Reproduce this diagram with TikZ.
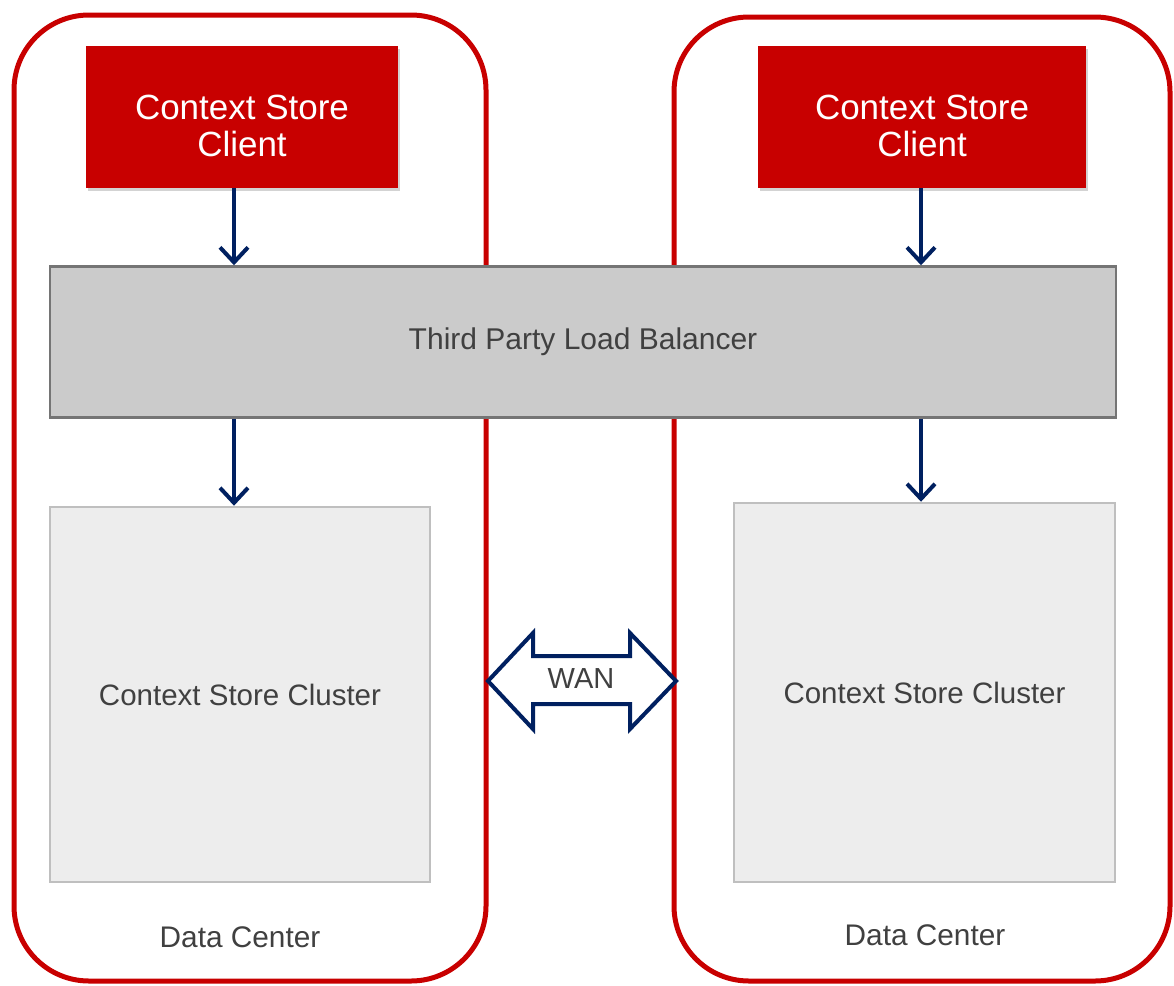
\documentclass[tikz,border=0pt]{standalone}
\usepackage{fontspec}
\setmainfont{Liberation Sans}
\usetikzlibrary{arrows.meta,shadows}
\definecolor{dcred}{HTML}{C80000}
\definecolor{navy}{HTML}{002060}
\definecolor{lbfill}{HTML}{CBCBCB}
\definecolor{lbdraw}{HTML}{757575}
\definecolor{csfill}{HTML}{EDEDED}
\definecolor{csdraw}{HTML}{BFBFBF}
\definecolor{txtgray}{HTML}{404040}
\tikzset{
  dcbox/.style={draw=dcred, line width=5pt, rounded corners=75pt},
  clientbox/.style={fill=dcred, draw=none, inner sep=0pt,
    drop shadow={opacity=0.35, shadow xshift=2pt, shadow yshift=-3pt}},
  clienttext/.style={text=white, align=center,
    font=\fontsize{35}{37}\selectfont, inner sep=0pt},
  lbbox/.style={fill=lbfill, draw=lbdraw, line width=2.5pt, text=txtgray,
    font=\fontsize{30}{34}\selectfont, inner sep=0pt},
  clusterbox/.style={fill=csfill, draw=csdraw, line width=2.5pt, text=txtgray,
    font=\fontsize{29.5}{34}\selectfont, inner sep=0pt},
  dclabel/.style={text=txtgray, font=\fontsize{29.8}{34}\selectfont, inner sep=0pt},
  flow/.style={draw=navy, line width=4pt, -{Straight Barb[length=15pt,width=28pt,line width=4pt]}},
  wanarrow/.style={draw=navy, fill=white, line width=4pt, line join=miter},
}
\begin{document}
\begin{tikzpicture}[x=1pt,y=-1pt]
\useasboundingbox (0,0) rectangle (1174,985);
% data centers
\draw[dcbox] (14,15) rectangle (486,981);
\draw[dcbox] (674,17) rectangle (1170,981);
% clients
\node[clientbox, minimum width=312pt, minimum height=142pt] (cl1) at (242,117) {};
\node[clienttext] (cl1t) at ([yshift=-9pt]cl1.center) {Context Store\\Client};
\node[clientbox, minimum width=328pt, minimum height=142pt] (cl2) at (922,117) {};
\node[clienttext] (cl2t) at ([yshift=-9pt]cl2.center) {Context Store\\Client};
% load balancer
\node[lbbox, minimum width=1066pt, minimum height=151pt] (lb) at (583,342) {Third Party Load Balancer};
% clusters
\node[clusterbox, minimum width=380pt, minimum height=375pt] (cs1) at (240,694.5) {Context Store Cluster};
\node[clusterbox, minimum width=381pt, minimum height=379pt] (cs2) at (924.5,692.5) {Context Store Cluster};
% data center labels
\node[dclabel] (dc1) at (240,937) {Data Center};
\node[dclabel] (dc2) at (925,935) {Data Center};
% arrows
\coordinate (a1) at (234,0);
\coordinate (a2) at (921,0);
\draw[flow] (cl1.south -| a1) -- (lb.north -| a1);
\draw[flow] (lb.south -| a1) -- (cs1.north -| a1);
\draw[flow] (cl2.south -| a2) -- (lb.north -| a2);
\draw[flow] (lb.south -| a2) -- (cs2.north -| a2);
% WAN double arrow
\draw[wanarrow] (488,681) -- (533,633) -- (533,656) -- (630,656) -- (630,633)
  -- (676,681) -- (630,729) -- (630,704) -- (533,704) -- (533,729) -- cycle;
\node[dclabel, font=\fontsize{29}{32}\selectfont] (wan) at (581,679) {WAN};
\end{tikzpicture}
\end{document}
